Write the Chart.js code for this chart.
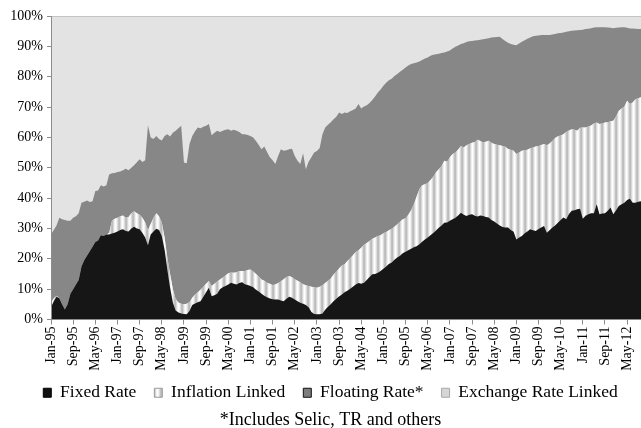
<!DOCTYPE html>
<html>
<head>
<meta charset="utf-8">
<script src="https://cdn.jsdelivr.net/npm/chart.js@4.4.1/dist/chart.umd.min.js"></script>
<style>
  html, body { margin: 0; padding: 0; background: #fff; }
  #wrap { width: 641px; height: 428px; }
</style>
</head>
<body>
<div id="wrap"><canvas id="grafico" width="641" height="428"></canvas></div>
<script>
// Etichette dell'asse x (una ogni 8 mesi, a partire da Jan-95)
const tickLabels = ['Jan-95', 'Sep-95', 'May-96', 'Jan-97', 'Sep-97', 'May-98', 'Jan-99', 'Sep-99', 'May-00',
  'Jan-01', 'Sep-01', 'May-02', 'Jan-03', 'Sep-03', 'May-04', 'Jan-05', 'Sep-05', 'May-06',
  'Jan-07', 'Sep-07', 'May-08', 'Jan-09', 'Sep-09', 'May-10', 'Jan-11', 'Sep-11', 'May-12'];

const seriesNames = ['Fixed Rate', 'Inflation Linked', 'Floating Rate*', 'Exchange Rate Linked'];

// Quote mensili (%) da Jan-95 a Oct-12, una riga per anno
const fixedRate = [
  4.0, 6.0, 7.5, 7.0, 5.0, 3.3, 5.0, 8.5, 10.0, 11.5, 13.0, 17.5,
  19.5, 21.0, 22.5, 24.0, 25.5, 26.0, 27.8, 27.5, 28.0, 28.0, 28.3, 28.6,
  29.0, 29.5, 29.7, 29.2, 29.0, 30.0, 30.6, 30.0, 29.7, 28.5, 27.0, 24.5,
  28.0, 29.0, 29.9, 29.5, 27.5, 23.0, 16.5, 10.5, 5.5, 3.0, 2.3, 2.0,
  1.8, 1.7, 2.8, 4.8, 5.3, 5.7, 6.0, 7.5, 9.0, 10.5, 7.7, 8.0,
  8.5, 10.0, 10.6, 11.0, 11.5, 12.1, 11.8, 11.5, 12.0, 12.3, 11.6, 11.4,
  11.0, 10.6, 9.8, 9.2, 8.5, 7.8, 7.3, 6.9, 6.7, 6.6, 6.6, 6.3,
  6.0, 6.8, 7.5, 7.2, 6.6, 6.0, 5.5, 5.2, 4.8, 4.0, 2.5, 1.8,
  1.7, 1.7, 2.0, 3.2, 4.2, 5.0, 6.0, 6.8, 7.6, 8.2, 9.0, 9.5,
  10.1, 10.8, 11.5, 12.0, 11.8, 12.1, 13.0, 14.0, 14.9, 15.0, 15.4, 16.0,
  16.7, 17.5, 18.3, 18.8, 19.7, 20.4, 21.0, 21.8, 22.3, 22.8, 23.3, 23.8,
  24.1, 24.8, 25.6, 26.4, 27.0, 27.8, 28.5, 29.3, 30.2, 31.0, 31.9, 32.0,
  32.5, 33.0, 33.5, 34.3, 35.2, 34.5, 34.1, 34.5, 34.7, 34.2, 33.9, 34.3,
  34.1, 33.8, 33.6, 32.8, 32.3, 31.6, 31.0, 30.5, 30.3, 30.3, 29.5, 28.9,
  26.4, 27.0, 27.5, 28.4, 29.0, 29.7, 29.4, 29.2, 29.8, 30.3, 30.8, 28.6,
  29.4, 30.3, 31.0, 31.9, 32.8, 33.6, 33.0, 34.8, 35.8, 36.0, 36.3, 36.5,
  33.2, 34.2, 34.7, 35.0, 35.0, 38.0, 34.7, 34.9, 35.0, 35.8, 36.9, 34.7,
  36.0, 37.4, 38.0, 38.5, 39.4, 39.8, 38.5, 38.5, 38.8, 39.0
];
const inflationLinked = [
  1.5, 1.0, 0.3, 0, 0, 0, 0, 0, 0, 0, 0, 0,
  0, 0, 0, 0, 0, 0, 0, 0, 0, 0.5, 4.2, 4.6,
  4.5, 4.5, 4.6, 4.3, 4.8, 5.0, 5.1, 5.0, 4.8, 5.0, 5.0, 5.0,
  3.5, 4.5, 5.1, 4.5, 4.5, 4.0, 4.0, 4.5, 4.5, 3.8, 3.3, 3.2,
  3.2, 3.5, 3.0, 2.4, 2.9, 3.3, 3.8, 3.3, 2.8, 2.2, 3.3, 3.8,
  4.0, 3.2, 3.2, 3.5, 3.7, 3.4, 3.6, 4.1, 4.0, 3.7, 4.4, 4.9,
  5.5, 5.2, 5.2, 5.0, 4.7, 5.0, 4.8, 4.9, 4.7, 4.9, 5.4, 6.3,
  7.3, 7.2, 6.8, 6.7, 6.7, 6.8, 6.8, 6.4, 6.5, 7.0, 8.3, 8.8,
  8.8, 9.1, 9.3, 8.8, 8.6, 8.5, 8.8, 8.9, 9.2, 9.6, 9.2, 9.8,
  10.1, 10.4, 10.7, 10.8, 11.8, 12.5, 12.2, 11.9, 11.7, 12.0, 12.1, 11.8,
  11.7, 11.3, 11.1, 11.1, 10.9, 11.0, 11.2, 11.2, 11.1, 11.7, 12.7, 14.2,
  16.4, 18.2, 18.6, 18.2, 18.0, 18.2, 18.5, 19.2, 19.3, 19.6, 20.4, 20.0,
  21.0, 21.5, 21.5, 21.7, 22.0, 22.2, 23.3, 23.3, 23.5, 24.3, 25.3, 24.5,
  24.2, 24.8, 25.3, 25.4, 25.5, 26.0, 26.4, 26.7, 26.6, 25.9, 26.4, 26.7,
  28.1, 28.0, 28.1, 27.4, 26.9, 26.7, 27.3, 27.8, 27.4, 27.2, 27.0, 28.8,
  28.6, 28.5, 28.8, 28.5, 27.8, 27.4, 28.8, 27.5, 26.9, 26.5, 25.9, 26.7,
  30.1, 29.1, 28.9, 28.9, 29.6, 26.9, 29.7, 29.7, 29.9, 29.2, 28.4, 30.8,
  31.0, 31.4, 31.5, 31.7, 32.7, 31.2, 33.0, 34.1, 34.1, 34.2
];
const floatingRate = [
  22.5, 22.5, 23.2, 26.5, 28.0, 29.5, 27.5, 24.0, 23.5, 22.5, 22.0, 21.0,
  19.3, 18.2, 16.2, 15.0, 16.8, 16.5, 16.4, 16.3, 16.2, 19.3, 15.7, 15.1,
  15.1, 14.8, 14.9, 16.2, 15.4, 15.0, 15.1, 16.8, 18.3, 18.4, 20.5, 34.5,
  28.5, 26.0, 25.5, 25.5, 27.0, 33.5, 40.5, 45.3, 51.5, 55.4, 57.4, 58.6,
  46.7, 46.3, 52.0, 53.3, 53.8, 54.3, 53.2, 52.7, 52.0, 51.7, 49.7, 49.7,
  49.7, 48.6, 48.4, 48.0, 47.5, 46.7, 47.1, 46.6, 45.8, 45.0, 45.0, 44.5,
  44.0, 44.2, 43.8, 43.3, 42.9, 44.2, 43.1, 41.7, 41.1, 39.7, 41.9, 43.5,
  42.3, 41.8, 41.8, 42.4, 40.6, 39.5, 38.9, 43.2, 38.2, 41.0, 42.7, 44.4,
  45.0, 45.7, 49.7, 51.3, 51.4, 51.5, 51.2, 51.1, 51.4, 49.9, 50.0, 48.7,
  48.4, 47.8, 47.3, 48.2, 45.9, 45.6, 45.4, 45.4, 45.7, 46.5, 47.3, 48.0,
  48.6, 49.2, 49.4, 49.4, 49.6, 49.5, 49.4, 49.3, 49.6, 49.2, 48.2, 46.4,
  44.2, 42.0, 41.3, 41.4, 41.3, 40.9, 40.2, 38.9, 38.1, 37.2, 35.7, 36.3,
  35.1, 34.8, 34.9, 34.3, 33.6, 34.3, 34.0, 33.9, 33.6, 33.4, 32.8, 33.4,
  34.0, 33.9, 33.8, 34.7, 35.2, 35.5, 35.8, 35.2, 34.9, 35.0, 34.9, 34.9,
  35.9, 35.9, 35.9, 36.2, 36.6, 36.5, 36.6, 36.5, 36.4, 36.2, 35.9, 36.3,
  35.7, 35.1, 34.3, 33.9, 33.8, 33.6, 33.0, 32.7, 32.4, 32.7, 33.1, 32.2,
  32.2, 32.4, 32.2, 32.1, 31.6, 31.4, 31.9, 31.7, 31.4, 31.2, 30.8, 30.5,
  29.1, 27.4, 26.8, 26.1, 24.0, 24.9, 24.4, 23.2, 22.8, 22.5
];
const exchangeRateLinked = [
  72.0, 70.5, 69.0, 66.5, 67.0, 67.2, 67.5, 67.5, 66.5, 66.0, 65.0, 61.5,
  61.2, 60.8, 61.3, 61.0, 57.7, 57.5, 55.8, 56.2, 55.8, 52.2, 51.8, 51.7,
  51.4, 51.2, 50.8, 50.3, 50.8, 50.0, 49.2, 48.2, 47.2, 48.1, 47.5, 36.0,
  40.0, 40.5, 39.5, 40.5, 41.0, 39.5, 39.0, 39.7, 38.5, 37.8, 37.0, 36.2,
  48.3, 48.5, 42.2, 39.5, 38.0, 36.7, 37.0, 36.5, 36.2, 35.6, 39.3, 38.5,
  37.8, 38.2, 37.8, 37.5, 37.3, 37.8, 37.5, 37.8, 38.2, 39.0, 39.0, 39.2,
  39.5, 40.0, 41.2, 42.5, 43.9, 43.0, 44.8, 46.5, 47.5, 48.8, 46.1, 43.9,
  44.4, 44.2, 43.9, 43.7, 46.1, 47.7, 48.8, 45.2, 50.5, 48.0, 46.5, 45.0,
  44.5, 43.5, 39.0, 36.7, 35.8, 35.0, 34.0, 33.2, 31.8, 32.3, 31.8, 32.0,
  31.4, 31.0, 30.5, 29.0, 30.5, 29.8, 29.4, 28.7, 27.7, 26.5, 25.2, 24.2,
  23.0, 22.0, 21.2, 20.7, 19.8, 19.1, 18.4, 17.7, 17.0, 16.3, 15.8, 15.6,
  15.3, 15.0, 14.5, 14.0, 13.7, 13.1, 12.8, 12.6, 12.4, 12.2, 12.0, 11.7,
  11.4, 10.7, 10.1, 9.7, 9.2, 9.0, 8.6, 8.3, 8.2, 8.1, 8.0, 7.8,
  7.7, 7.5, 7.3, 7.1, 7.0, 6.9, 6.8, 7.6, 8.2, 8.8, 9.2, 9.5,
  9.6, 9.1, 8.5, 8.0, 7.5, 7.1, 6.7, 6.5, 6.4, 6.3, 6.3, 6.3,
  6.3, 6.1, 5.9, 5.7, 5.6, 5.4, 5.2, 5.0, 4.9, 4.8, 4.7, 4.6,
  4.5, 4.3, 4.2, 4.0, 3.8, 3.7, 3.7, 3.7, 3.7, 3.8, 3.9, 4.0,
  3.9, 3.8, 3.7, 3.7, 3.9, 4.1, 4.1, 4.2, 4.3, 4.3
];

const serif = "'Liberation Serif', 'Times New Roman', serif";
const ctx = document.getElementById('grafico').getContext('2d');

// Trama a strisce verticali per "Inflation Linked"
function strisce() {
  const c = document.createElement('canvas');
  c.width = 7; c.height = 2;
  const g = c.getContext('2d');
  const toni = ['#bcbcbc', '#d8d8d8', '#f0f0f0', '#ffffff', '#f2f2f2', '#dcdcdc', '#c2c2c2'];
  toni.forEach((t, i) => { g.fillStyle = t; g.fillRect(i, 0, 1, 2); });
  return ctx.createPattern(c, 'repeat');
}
const trama = strisce();

const colori = ['#161616', trama, '#878787', '#e3e3e3'];
const legendaFill = ['#111111', trama, '#7d7d7d', '#d6d6d6'];
const legendaBordo = ['#000000', '#9a9a9a', '#111111', '#a8a8a8'];
const valori = [fixedRate, inflationLinked, floatingRate, exchangeRateLinked];

const sfondo = {
  id: 'sfondo',
  afterLayout(chart) {
    // le etichette vengono ritagliate sul box della scala: allargo i box fino ai bordi del canvas
    chart.scales.y.left = 0;
    chart.scales.x.bottom = chart.height;
  },
  beforeDraw(chart) {
    const { ctx, chartArea: a } = chart;
    ctx.save();
    ctx.fillStyle = '#e3e3e3';
    ctx.fillRect(a.left, a.top, a.right - a.left, a.bottom - a.top);
    ctx.restore();
  },
  afterDatasetsDraw(chart) {
    const { ctx, chartArea: a } = chart;
    ctx.save();
    ctx.strokeStyle = '#c4c4c4';
    ctx.lineWidth = 1;
    ctx.beginPath();
    ctx.moveTo(a.left, a.top + 0.5);
    ctx.lineTo(a.right, a.top + 0.5);
    ctx.stroke();
    ctx.strokeStyle = '#8c8c8c';
    ctx.beginPath();
    ctx.moveTo(a.left + 0.5, a.top);
    ctx.lineTo(a.left + 0.5, a.bottom);
    ctx.lineTo(a.right, a.bottom);
    ctx.stroke();
    ctx.restore();
  }
};

new Chart(ctx, {
  type: 'line',
  data: {
    datasets: seriesNames.map((nome, k) => ({
      label: nome,
      data: valori[k].map((v, i) => ({ x: i, y: v })),
      backgroundColor: colori[k],
      borderWidth: 0,
      borderColor: 'rgba(0,0,0,0)',
      pointRadius: 0,
      fill: k === 0 ? 'origin' : '-1',
      tension: 0
    }))
  },
  options: {
    responsive: false,
    animation: false,
    events: [],
    layout: { padding: { left: 20, top: 16, right: 0, bottom: 0 } },
    scales: {
      x: {
        type: 'linear',
        min: 0,
        max: fixedRate.length - 1,
        ticks: {
          stepSize: 8,
          autoSkip: false,
          includeBounds: false,
          minRotation: 90,
          maxRotation: 90,
          padding: 2,
          color: '#000',
          font: { family: serif, size: 14 },
          callback: v => tickLabels[v / 8]
        },
        grid: { drawOnChartArea: false, tickLength: 5, color: '#8c8c8c' },
        border: { color: '#8c8c8c' },
        afterFit: s => { s.height = 46.5; s.paddingRight = 0; }
      },
      y: {
        stacked: true,
        min: 0,
        max: 100,
        ticks: {
          stepSize: 10,
          padding: 4,
          color: '#000',
          font: { family: serif, size: 14 },
          callback: v => v + '%'
        },
        grid: { drawOnChartArea: false, tickLength: 4, color: '#8c8c8c' },
        border: { color: '#8c8c8c' },
        afterFit: s => { s.width = 31; }
      }
    },
    plugins: {
      tooltip: { enabled: false },
      legend: {
        position: 'bottom',
        labels: {
          boxWidth: 8,
          boxHeight: 9,
          padding: 18,
          color: '#000',
          font: { family: serif, size: 17.5 },
          generateLabels: chart => chart.data.datasets.map((d, i) => ({
            text: d.label,
            fillStyle: legendaFill[i],
            strokeStyle: legendaBordo[i],
            lineWidth: 1,
            hidden: false,
            datasetIndex: i,
            fontColor: '#000'
          }))
        }
      },
      title: {
        display: true,
        position: 'bottom',
        text: '*Includes Selic, TR and others',
        color: '#000',
        font: { family: serif, size: 18, weight: 'normal' },
        padding: { top: -2.3, bottom: -2.8 }
      }
    }
  },
  plugins: [sfondo]
});
</script>
</body>
</html>
